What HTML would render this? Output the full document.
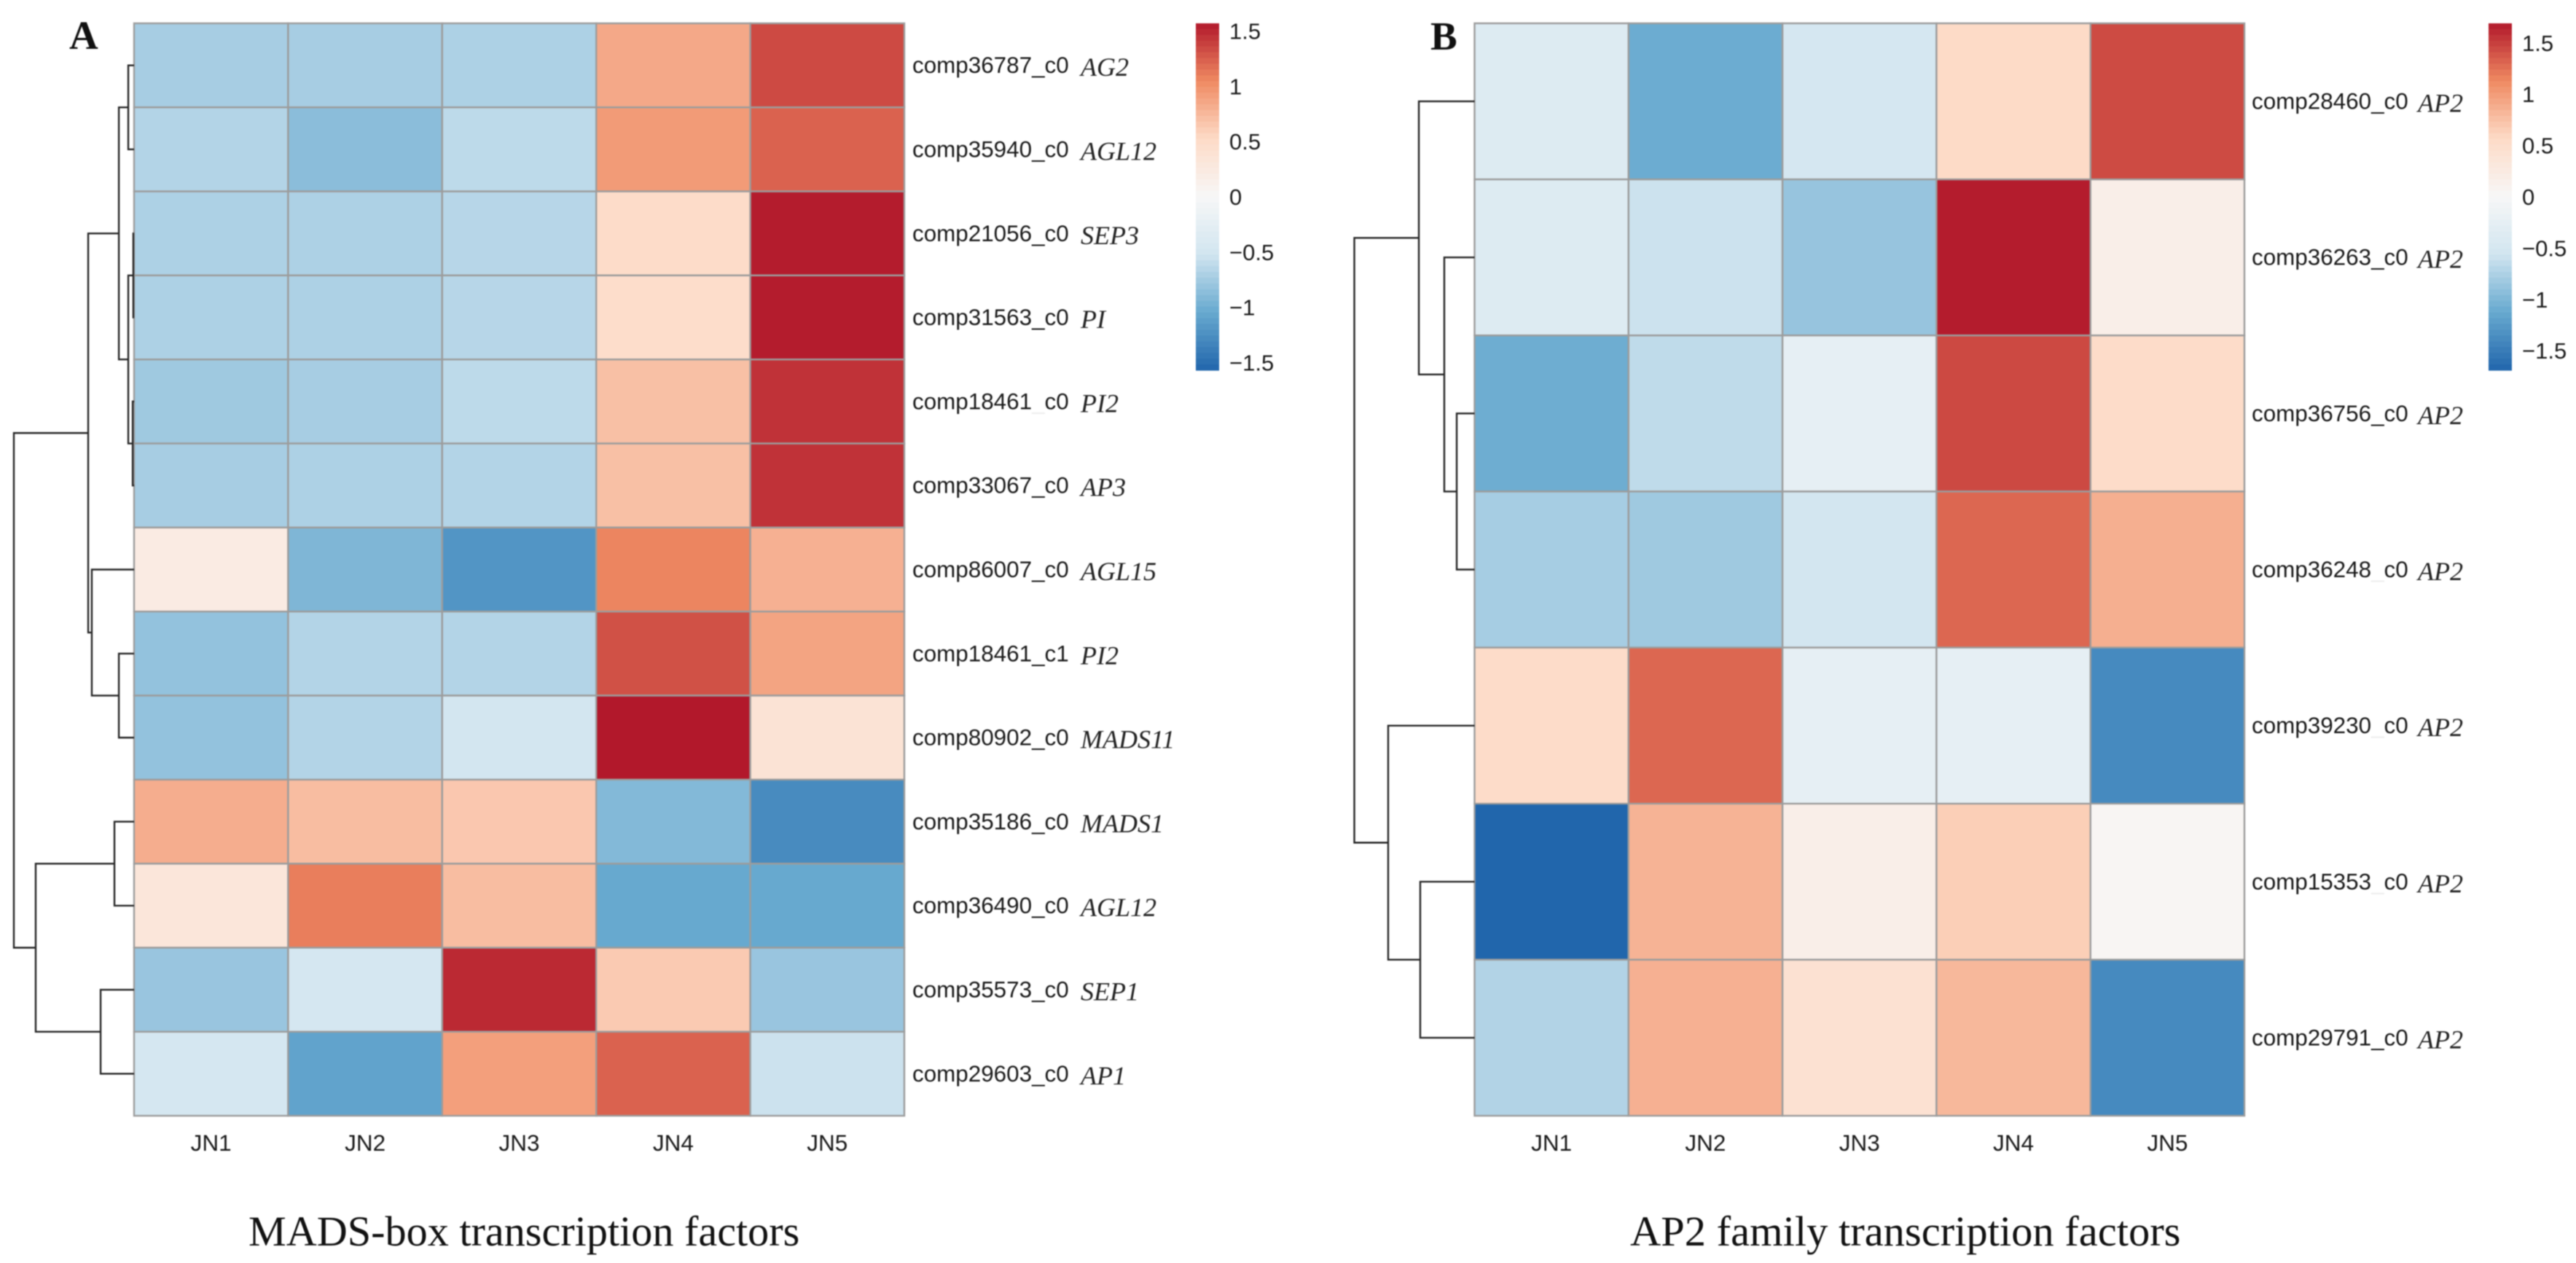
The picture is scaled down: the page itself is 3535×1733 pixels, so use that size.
<!DOCTYPE html>
<html lang="en">
<head>
<meta charset="utf-8">
<title>MADS-box and AP2 family transcription factor heatmaps</title>
<style>
  html, body { margin: 0; padding: 0; background: #fff; overflow: hidden; }
  svg { display: block; position: absolute; left: 0; top: 0; filter: blur(0.7px); }
  .sans { font-family: "Liberation Sans", sans-serif; fill: #1a1a1a; }
  .serif { font-family: "Liberation Serif", serif; fill: #111; }
  .gene { font-family: "Liberation Serif", serif; font-style: italic; fill: #222; }
</style>
</head>
<body>
<svg id="fig" xmlns="http://www.w3.org/2000/svg" width="3535" height="1733" viewBox="0 0 3535 1733">
  <rect x="0" y="0" width="3535" height="1733" fill="#ffffff"/>
  <text class="serif" x="95" y="67" font-size="55" font-weight="bold">A</text>
  <text class="serif" x="1963" y="68" font-size="55" font-weight="bold">B</text>
  <text class="serif" x="341" y="1709" font-size="58.2">MADS-box transcription factors</text>
  <text class="serif" x="2237" y="1709" font-size="58.5">AP2 family transcription factors</text>
</svg>
<script>
// ---------- shared data ----------
const samples = ["JN1", "JN2", "JN3", "JN4", "JN5"];
const legendTicks = [1.5, 1, 0.5, 0, -0.5, -1, -1.5];

// ---------- panel A data ----------
const compsA = ["comp36787_c0","comp35940_c0","comp21056_c0","comp31563_c0","comp18461_c0","comp33067_c0","comp86007_c0","comp18461_c1","comp80902_c0","comp35186_c0","comp36490_c0","comp35573_c0","comp29603_c0"];
const genesA = ["AG2","AGL12","SEP3","PI","PI2","AP3","AGL15","PI2","MADS11","MADS1","AGL12","SEP1","AP1"];
const faintUnderscoreA = [4];
const valuesA = [
  [-0.73,-0.73,-0.70, 0.85, 1.34],
  [-0.67,-0.87,-0.62, 0.94, 1.23],
  [-0.70,-0.70,-0.65, 0.50, 1.55],
  [-0.70,-0.70,-0.65, 0.48, 1.55],
  [-0.77,-0.73,-0.62, 0.70, 1.45],
  [-0.73,-0.70,-0.67, 0.70, 1.45],
  [ 0.22,-0.93,-1.20, 1.07, 0.80],
  [-0.83,-0.67,-0.67, 1.31, 0.88],
  [-0.83,-0.67,-0.50, 1.57, 0.37],
  [ 0.82, 0.72, 0.65,-0.91,-1.28],
  [ 0.32, 1.10, 0.72,-1.05,-1.05],
  [-0.80,-0.47, 1.49, 0.63,-0.80],
  [-0.47,-1.09, 0.91, 1.23,-0.55]
];
const domainA = 1.57;
// hclust-style merges: negative = leaf (1-based row), positive = earlier merge; third value = height
const mergesA = [
  [-1,-2,0.29],[-3,-4,0.04],[-5,-6,0.07],[2,3,0.29],[1,4,0.76],[-8,-9,0.76],
  [-7,6,2.11],[5,7,2.29],[-10,-11,0.98],[-12,-13,1.67],[9,10,4.91],[8,11,6.0]
];

// ---------- panel B data ----------
const compsB = ["comp28460_c0","comp36263_c0","comp36756_c0","comp36248_c0","comp39230_c0","comp15353_c0","comp29791_c0"];
const genesB = ["AP2","AP2","AP2","AP2","AP2","AP2","AP2"];
const faintUnderscoreB = [3,4,5];
const valuesB = [
  [-0.38,-1.10,-0.50, 0.56, 1.44],
  [-0.38,-0.59,-0.87, 1.67, 0.18],
  [-1.09,-0.66,-0.25, 1.45, 0.54],
  [-0.79,-0.83,-0.53, 1.30, 0.87],
  [ 0.54, 1.30,-0.25,-0.25,-1.39],
  [-1.69, 0.84, 0.18, 0.65, 0.05],
  [-0.73, 0.86, 0.44, 0.81,-1.39]
];
const domainB = 1.69;
const mergesB = [
  [-3,-4,0.89],[-2,1,1.51],[-1,2,2.78],[-6,-7,2.71],[-5,4,4.31],[3,5,6.0]
];

// ---------- colour ramp (RdBu 7-class) ----------
const rampStops = [[33,102,172],[103,169,207],[209,229,240],[247,247,247],[253,219,199],[239,138,98],[178,24,43]];
function colorFor(v, domain) {
  let t = (Math.max(-domain, Math.min(domain, v)) / domain + 1) / 2 * (rampStops.length - 1);
  const i = Math.min(Math.floor(t), rampStops.length - 2);
  const f = t - i;
  const c = rampStops[i].map((a, k) => Math.round(a + (rampStops[i + 1][k] - a) * f));
  return "rgb(" + c.join(",") + ")";
}

const svg = document.getElementById("fig");
const NS = "http://www.w3.org/2000/svg";
function mk(tag, parent, attrs) {
  const el = document.createElementNS(NS, tag);
  for (const k in attrs) el.setAttribute(k, attrs[k]);
  parent.appendChild(el);
  return el;
}

function drawPanel(p) {
  const nRows = p.values.length, nCols = samples.length;
  const cw = (p.right - p.left) / nCols, rh = (p.bottom - p.top) / nRows;
  const xScale = c => p.left + c * cw;
  const yScale = r => p.top + r * rh;
  const distScale = h => p.left - h * 27.5;

  const heat = mk("g", svg, {});
  
  
  p.values.forEach((row, r) => {
    row.forEach((v, c) => {
      const cell = mk("rect", heat, {
        x: xScale(c), y: yScale(r), width: cw, height: rh,
        fill: colorFor(v, p.domain), stroke: "#9c9c9c", "stroke-width": 2.4
      });
      
      
    });
  });

  // row labels
  const rowLabels = mk("g", svg, {});
  
  
  p.comps.forEach((name, r) => {
    const cy = yScale(r + 0.5);
    const t = mk("text", rowLabels, { x: p.labelX, y: cy + 10.5, "font-size": 31.4, class: "sans" });
    
    
    const parts = name.split("_");
    t.appendChild(document.createTextNode(parts[0]));
    const u = mk("tspan", t, { "fill-opacity": p.faint.includes(r) ? 0.08 : 1 });
    
    
    u.textContent = "_";
    t.appendChild(document.createTextNode(parts[1]));
    const g = mk("text", rowLabels, { x: p.geneX, y: cy + 14.5, "font-size": 36, class: "gene" });
    
    
    g.textContent = p.genes[r];
  });

  // column labels
  const colLabels = mk("g", svg, {});
  
  
  samples.forEach((s, c) => {
    const t = mk("text", colLabels, { x: xScale(c + 0.5), y: 1579, "font-size": 31.5, "text-anchor": "middle", class: "sans" });
    
    
    t.textContent = s;
  });

  // dendrogram
  const dendro = mk("g", svg, { fill: "none", stroke: "#262626", "stroke-width": 2.4 });
  
  
  const nodes = [];
  const locate = id => id < 0 ? { x: p.left, y: yScale(-id - 0.5) } : nodes[id - 1];
  p.merges.forEach(m => {
    const a = locate(m[0]), b = locate(m[1]);
    const x = distScale(m[2]);
    const path = mk("path", dendro, { d: "M" + a.x + " " + a.y + "H" + x + "V" + b.y + "H" + b.x });
    
    
    nodes.push({ x: x, y: (a.y + b.y) / 2 });
  });

  // legend
  const legend = mk("g", svg, {});
  
  
  const lTop = 32, lBottom = 508;
  const legendY = v => lTop + (p.domain - v) / (2 * p.domain) * (lBottom - lTop);
  const bands = 60;
  for (let i = 0; i < bands; i++) {
    const hi = p.domain - i * (2 * p.domain / bands);
    const lo = hi - 2 * p.domain / bands;
    const band = mk("rect", legend, {
      x: p.legendX, y: legendY(hi), width: 32, height: legendY(lo) - legendY(hi) + 0.6,
      fill: colorFor((hi + lo) / 2, p.domain)
    });
    
    
  }
  legendTicks.forEach(v => {
    const t = mk("text", legend, { x: p.legendX + 46, y: legendY(v) + 11, "font-size": 31, class: "sans" });
    
    
    t.textContent = String(v).replace("-", "\u2212");
  });
}

drawPanel({ id: "panel-a", left: 184, right: 1241, top: 32, bottom: 1531, labelX: 1252, geneX: 1483, legendX: 1641,
  values: valuesA, comps: compsA, genes: genesA, faint: faintUnderscoreA, merges: mergesA, domain: domainA });
drawPanel({ id: "panel-b", left: 2023.5, right: 3080, top: 32, bottom: 1531, labelX: 3090, geneX: 3318, legendX: 3415,
  values: valuesB, comps: compsB, genes: genesB, faint: faintUnderscoreB, merges: mergesB, domain: domainB });
</script>
</body>
</html>
